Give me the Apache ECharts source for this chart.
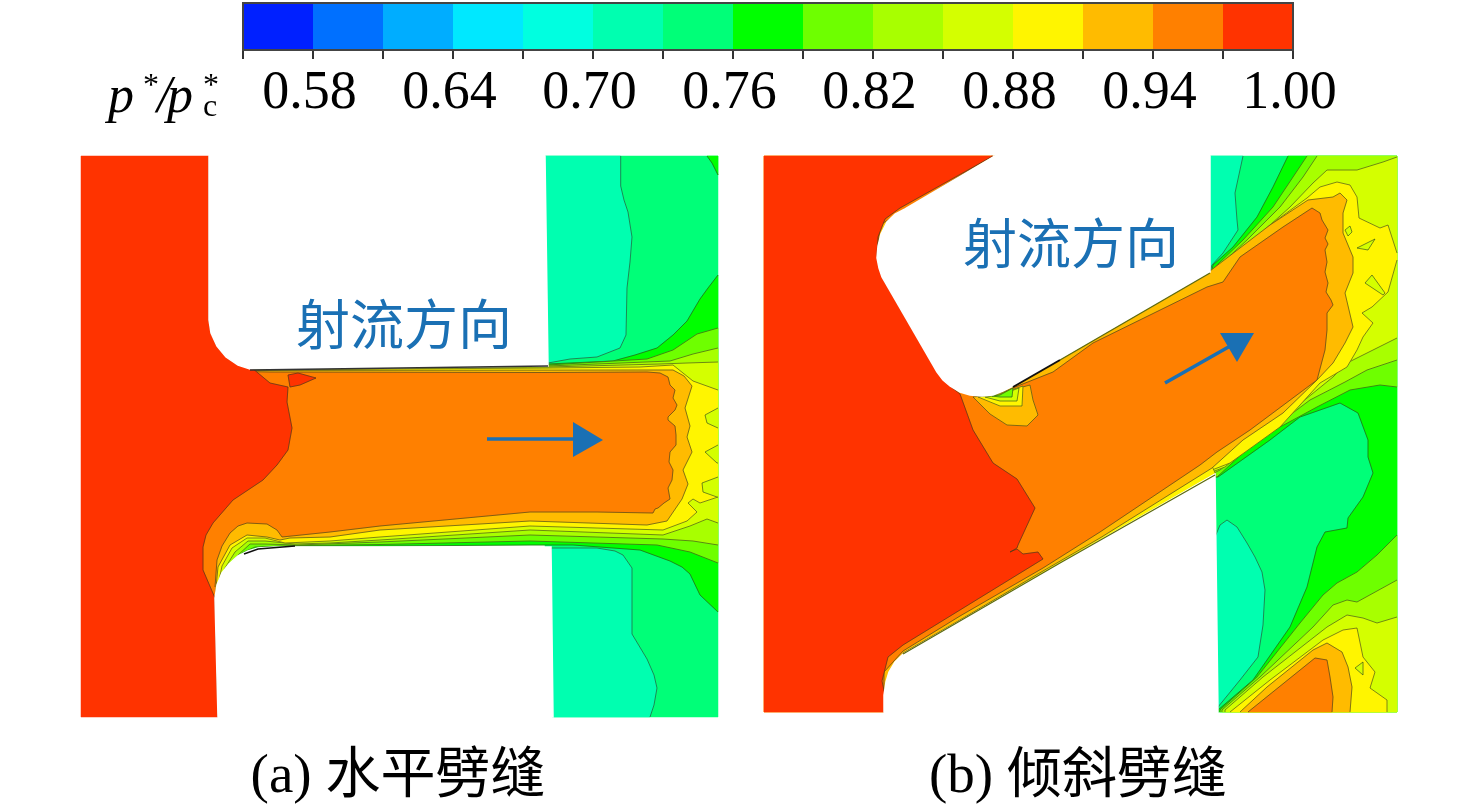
<!DOCTYPE html>
<html><head><meta charset="utf-8">
<style>html,body{margin:0;padding:0;background:#fff}#c{width:1476px;height:811px}</style>
<script src="https://cdn.jsdelivr.net/npm/echarts@6/dist/echarts.min.js"></script>
</head><body><div id="c"></div>
<script>
const ticks=['0.55','0.58','0.61','0.64','0.67','0.70','0.73','0.76','0.79','0.82','0.85','0.88','0.91','0.94','0.97','1.00'];
const levelColors=['#0020ff','#0070ff','#00adff','#00e8ff','#00ffe0','#00ffb0','#00ff78','#00ff00','#6eff00','#a8ff00','#d4ff00','#fff500','#ffbb00','#ff8000','#ff3300'];
const seamX=[81,718,764,1397,1212,215,195,545,552,1210],seamY=[156,717,712];

// ---- panel (a): contour regions, painted from low to high level
const aBase=[[545,156],[718,156],[718,717],[552,717],[545,560]];
const aL5Top=[[545,156],[620.7,156],[620.7,186],[624,200],[628,212],[632,237],[630,262],[627,288],[626,335],[620,348],[597,357],[570,359],[548,363],[545,363]];
const aL5Low=[[551,548],[597,548],[615,551],[623,555],[632,568],[632,634],[647,659],[654,675],[657,688],[654,705],[650,717],[552,717]];
const aL7Corner=[[707,156],[712,163],[718,175],[718,156]];
const a7=[[215,598],[222,576],[237,557],[257,548],[297,546],[380,546],[530,545],[573,545],[640,550],[670,561],[682,567],[690,574],[700,595],[718,612],[718,275],[708,288],[700,299],[687,321],[673,335],[657,348],[635,355],[613,361],[548,364],[240,366],[215,366]];
const a8=[[215,598],[220,583],[230,568],[242,553],[255,547],[300,545.5],[380,544.5],[530,541],[657,545],[690,552],[718,563],[718,328],[697,334],[673,350],[647,359],[548,365],[240,367],[215,367]];
const a9=[[215,598],[219,585],[227,570],[238,555],[250,544],[265,544],[297,545],[380,542],[530,535],[663,539],[693,541],[718,545],[718,348],[693,354],[670,361],[548,366],[240,368],[215,368]];
const a10=[[215,598],[218,590],[225,568],[235,552],[248,541],[265,541],[295,544],[330,543],[380,540],[530,530],[663,535],[690,526],[707,519],[718,523],[718,362],[687,363],[660,364],[548,367],[240,369],[215,369]];
const a11=[[215,598],[216,595],[222,566],[232,548],[247,538],[265,538],[285,543],[330,541],[380,537],[530,526],[663,530],[687,521],[697,512],[688,503],[693,499],[700,503],[718,497],[718,390],[693,381],[673,365],[640,367],[548,368],[240,370],[215,370]];
const aIsle1=[[718,408],[705,415],[707,423],[718,428]];
const aIsle2=[[718,445],[705,452],[717,463],[718,463]];
const aIsle3=[[718,477],[702,483],[703,492],[717,497],[718,497]];
const a12=[[215,598],[218,567],[230,545],[247,535],[267,537],[280,540],[290,538],[330,537],[380,530],[530,521],[647,525],[667,521],[682,499],[688,484],[683,470],[692,452],[687,437],[690,426],[685,408],[692,386],[684,376],[673,370],[640,370],[240,370.5],[215,370.5]];
const a13=[[215,598],[215,587],[217,560],[222,546],[230,533],[238,526],[247,523],[267,524],[277,530],[282,537],[330,532],[380,526],[530,512],[597,512],[653,513],[655,509],[658,508],[664,503],[670,499],[668,488],[672,480],[673,470],[669,462],[670,452],[676,445],[676,435],[675,426],[668,420],[668,417],[675,410],[677,405],[673,398],[675,390],[670,385],[668,377],[660,373],[647,372],[543,372.5],[270,372],[215,371],[195,371],[195,598]];
const a14=[[81,156],[209,156],[209,320],[211,333],[217,346],[226,357],[238,365],[252,368],[270,383],[288,387],[287,402],[292,428],[288,450],[277,465],[263,480],[233,500],[213,523],[206,535],[203,547],[203,570],[215,598],[218,717],[81,717]];
const aSliver=[[288,375],[298,373],[316,378],[300,385],[290,387]];
const aWhiteTop=[[209,156],[209,320],[211,333],[217,346],[226,357],[238,365],[250,369],[548,366],[545,156]];
const aWhiteLow=[[215,598],[217,585],[222,573],[229,564],[238,556],[248,551],[258,548],[275,547],[380,547],[551,547],[553,717],[218,717]];

// ---- panel (b)
const bBase=[[1210,156],[1397,156],[1397,712],[1218,712],[1210,470]];
const bL5Top=[[1210,156],[1243,156],[1235,193],[1237,220],[1238,230],[1223,253],[1212,265],[1210,272]];
const bL5Low=[[1215,537],[1220,525],[1227,520],[1237,527],[1247,543],[1255,557],[1262,572],[1265,590],[1263,625],[1258,657],[1240,680],[1218,707],[1216,712]];
const b7=[[1288,156],[1273,187],[1257,217],[1233,247],[1213,265],[1212,270],[1212,477],[1218,477],[1270,440],[1300,417],[1340,403],[1358,413],[1368,440],[1368,457],[1373,473],[1363,497],[1348,518],[1347,528],[1325,532],[1317,547],[1307,587],[1290,627],[1253,680],[1218,710],[1218,712],[1397,712],[1397,156]];
const b8Up=[[1307,156],[1293,177],[1273,207],[1243,240],[1217,265],[1212,270],[1212,476],[1217,477],[1257,440],[1280,427],[1317,407],[1350,390],[1380,385],[1397,387],[1397,156]];
const b8Low=[[1397,535],[1377,555],[1357,572],[1337,583],[1323,595],[1300,623],[1257,677],[1220,710],[1220,712],[1397,712]];
const b9Up=[[1317,156],[1303,177],[1280,207],[1247,240],[1220,265],[1212,272],[1212,474],[1220,470],[1270,430],[1310,400],[1345,382],[1367,370],[1397,360],[1397,156]];
const b9Low=[[1397,580],[1357,602],[1347,600],[1333,605],[1313,627],[1260,677],[1222,710],[1222,712],[1397,712]];
const b10Up=[[1397,157],[1383,162],[1357,170],[1327,170],[1313,183],[1290,207],[1250,243],[1223,265],[1212,274],[1212,472],[1225,467],[1280,420],[1333,377],[1347,363],[1367,353],[1397,338]];
const b10Low=[[1397,617],[1377,623],[1363,618],[1347,615],[1327,627],[1263,677],[1225,710],[1225,712],[1397,712]];
const b11Up=[[1307,198],[1320,187],[1337,182],[1350,185],[1357,197],[1359,218],[1380,228],[1388,225],[1397,253],[1397,260],[1388,292],[1372,307],[1362,313],[1373,323],[1363,337],[1357,350],[1347,367],[1320,383],[1280,427],[1230,463],[1212,470],[1212,276],[1230,263],[1270,225]];
const b11Low=[[1387,712],[1387,700],[1370,688],[1375,672],[1363,657],[1357,628],[1343,630],[1323,640],[1270,680],[1230,712]];
const bWallStrip=[[1212,466],[1100,534],[1043,568],[960,617],[903,651],[903,655],[1043,574],[1100,541],[1216,475]];
const bIsle1=[[1345,230],[1350,226],[1352,232],[1348,236]];
const bIsle2=[[1357,248],[1375,239],[1368,250]];
const bIsle3=[[1365,283],[1372,275],[1385,293],[1383,295]];
const bIsle4=[[1355,668],[1363,662],[1363,675]];
const b12=[[1308,200],[1333,197],[1340,193],[1347,200],[1343,213],[1343,233],[1353,257],[1353,273],[1345,293],[1353,327],[1345,343],[1333,363],[1317,380],[1283,413],[1243,440],[1212,468],[1100,538],[1043,571],[960,620],[903,653],[884,700],[884,712],[764,712],[764,156],[995,156],[877,255],[1000,392],[1093,338],[1210,271],[1270,225]];
const b12Low=[[1327,643],[1342,652],[1348,667],[1352,687],[1350,712],[1240,712],[1267,687],[1313,650]];
const b13=[[1312,208],[1320,213],[1322,220],[1328,230],[1325,238],[1328,244],[1325,250],[1327,262],[1325,272],[1328,283],[1326,292],[1331,300],[1333,305],[1327,313],[1327,330],[1325,350],[1317,380],[1250,430],[1217,452],[1200,465],[1100,532],[1043,568],[960,616],[903,651],[884,672],[884,712],[764,712],[764,156],[992,156],[880,225],[877,255],[1000,393],[1053,372],[1093,343],[1150,315],[1207,287],[1223,282],[1240,257],[1283,227]];
const b13Low=[[1315,658],[1327,660],[1330,677],[1333,697],[1332,712],[1248,712]];
const bBumpAmber=[[1030,385],[1033,400],[1038,415],[1027,426],[1007,425],[990,414],[973,397],[1000,393]];
const bBumpYellow=[[1023,386],[1022,406],[1000,406],[978,397],[1000,394]];
const bBumpLime=[[1019,388],[1017,401],[1000,401],[985,397],[1000,395]];
const bBumpGreen=[[1013,388],[1012,397],[1000,397],[992,396],[1000,395]];
const b14=[[764,156],[993,156],[900,208],[885,219],[878,237],[877,255],[882,277],[937,372],[950,386],[960,394],[973,430],[993,463],[1017,479],[1035,508],[1018,545],[1017,548],[1010,552],[1017,549],[1023,554],[1038,552],[1043,559],[960,610],[903,645],[888,657],[882,681],[885,695],[884,712],[764,712]];
const bWhiteTop=[[995,156],[905,209],[895,214],[887,222],[881,234],[878,246],[877,258],[879,268],[882,277],[937,372],[943,380],[950,386],[960,392],[970,395],[982,396],[993,395],[1003,391],[1013,386],[1210,272],[1210,156]];
const bWhiteLow=[[884,712],[884,695],[886,682],[889,672],[895,662],[903,654],[1215,474],[1218,712]];

const regions=[
 [6,aBase],[5,aL5Top],[5,aL5Low],[7,aL7Corner],[7,a7],[8,a8],[9,a9],[10,a10],[11,a11],[10,aIsle1],[10,aIsle2],[10,aIsle3],[12,a12],[13,a13],[14,a14],[14,aSliver],
 [-1,aWhiteTop],[-1,aWhiteLow],
 [6,bBase],[5,bL5Top],[5,bL5Low],[7,b7],[8,b8Up],[8,b8Low],[9,b9Up],[9,b9Low],[10,b10Up],[10,b10Low],[11,b11Up],[11,b11Low],[11,bWallStrip],[10,bIsle1],[10,bIsle2],[10,bIsle3],[10,bIsle4],[12,b12],[12,b12Low],[13,b13],[13,b13Low],[12,bBumpAmber],[11,bBumpYellow],[10,bBumpLime],[8,bBumpGreen],[14,b14],
 [-1,bWhiteTop],[-1,bWhiteLow]
];

// ---- wall lines and arrows
const wallA1=[[250,370],[400,368],[548,366]];
const wallA2=[[244,554],[258,549],[295,546]];
const wallB1=[[1013,387],[1060,360]];
const wallB2=[[1060,360],[1210,273]];
const wallB3=[[903,654],[1060,563],[1215,475]];
const walls=[[wallA1,'#333',1.5],[wallA2,'#111',1.5],[wallB1,'#111',2],[wallB2,'#5d6a10',1.3],[wallB3,'#5d6a10',1.3]];
const arrowAShaft=[[487,439],[575,439]];
const arrowAHead=[[573,422],[603,440],[573,457]];
const arrowBShaft=[[1165,383],[1232,345]];
const arrowBHead=[[1220,333],[1254,333],[1237,362]];

// ---- text: string, x, y, size, family, italic
const serif='"Liberation Serif","Noto Sans CJK SC",serif',cjk='"Noto Sans CJK SC",serif';
const labels=[
 ['p',108,98,52,serif,1,'#000'],['*',143,87,32,serif,0,'#000'],['/',157,98,52,serif,1,'#000'],['p',167,98,52,serif,1,'#000'],['*',203,87,32,serif,0,'#000'],['c',203,108,32,serif,0,'#000'],
 ['射流方向',404,324,54,cjk,0,'#1a70b4',1],['射流方向',1071,243,54,cjk,0,'#1a70b4',1],
 ['(a) 水平劈缝',398,778,55,serif,0,'#000',1],['(b) 倾斜劈缝',1078,778,55,serif,0,'#000',1]
];

function pts(api,a){return a.map(p=>api.coord(p));}
function contourRuns(a){
 const runs=[];let cur=[];
 for(let i=0;i<a.length;i++){
  const p=a[i],q=a[(i+1)%a.length];
  const seam=(p[0]===q[0]&&seamX.includes(p[0]))||(p[1]===q[1]&&seamY.includes(p[1]));
  if(seam){if(cur.length)runs.push(cur);cur=[];}
  else{if(!cur.length)cur.push(p);cur.push(q);}
 }
 if(cur.length)runs.push(cur);
 return runs;
}
const chart=echarts.init(document.getElementById('c'),null,{renderer:'canvas'});
const fullAxisX={type:'value',min:0,max:1476,show:false,gridIndex:0};
const fullAxisY={type:'value',min:0,max:811,inverse:true,show:false,gridIndex:0};
chart.setOption({
 animation:false,backgroundColor:'#fff',
 grid:[{left:0,top:0,width:1476,height:811},
       {left:243,top:3,width:1050,height:47,show:true,borderColor:'#444',borderWidth:2,backgroundColor:'transparent',z:5}],
 xAxis:[fullAxisX,{type:'category',gridIndex:1,data:ticks,boundaryGap:false,
   axisLine:{show:true,lineStyle:{color:'#333',width:2}},
   axisTick:{show:true,length:9,alignWithLabel:true,interval:0,lineStyle:{color:'#333',width:2}},
   axisLabel:{show:true,interval:(i)=>i%2===1,margin:17,padding:[0,7,0,0],color:'#000',fontSize:54,fontFamily:'Liberation Serif',hideOverlap:false}}],
 yAxis:[fullAxisY,{type:'value',gridIndex:1,min:0,max:1,show:false}],
 series:[
  {type:'custom',xAxisIndex:0,yAxisIndex:0,clip:false,silent:true,coordinateSystem:'cartesian2d',data:regions.map((_,i)=>[i,i]),
   renderItem(params,api){
    const [lv,a]=regions[params.dataIndex];
    if(lv<0)return {type:'polygon',shape:{points:pts(api,a)},style:{fill:'#fff',stroke:'#fff',lineWidth:1.5}};
    const children=[{type:'polygon',shape:{points:pts(api,a)},style:{fill:levelColors[lv],stroke:levelColors[lv],lineWidth:0.5}}];
    contourRuns(a).forEach(r=>children.push({type:'polyline',shape:{points:pts(api,r)},style:{fill:null,stroke:'rgba(45,60,30,0.6)',lineWidth:1}}));
    return {type:'group',children};
   }},
  {type:'custom',xAxisIndex:0,yAxisIndex:0,clip:false,silent:true,z:3,data:walls.map((_,i)=>[i,i]),
   renderItem(params,api){const [a,c,w]=walls[params.dataIndex];
    return {type:'polyline',shape:{points:pts(api,a)},style:{fill:null,stroke:c,lineWidth:w}};}},
  {type:'custom',xAxisIndex:0,yAxisIndex:0,clip:false,silent:true,z:4,data:[[0,0],[1,1]],
   renderItem(params,api){
    const s=params.dataIndex?arrowBShaft:arrowAShaft,h=params.dataIndex?arrowBHead:arrowAHead;
    return {type:'group',children:[
     {type:'polyline',shape:{points:pts(api,s)},style:{fill:null,stroke:'#1a70b4',lineWidth:3.5}},
     {type:'polygon',shape:{points:pts(api,h)},style:{fill:'#1a70b4'}}]};}},
  {type:'custom',xAxisIndex:0,yAxisIndex:0,clip:false,silent:true,z:6,data:labels.map((_,i)=>[i,i]),
   renderItem(params,api){const [t,x,y,s,f,it,col,cen]=labels[params.dataIndex];const c=api.coord([x,y]);
    return {type:'text',x:c[0],y:c[1],style:{text:t,fill:col,font:(it?'italic ':'')+s+'px '+f,textAlign:cen?'center':'left',textVerticalAlign:'middle'}};}},
  {type:'custom',xAxisIndex:1,yAxisIndex:1,silent:true,z:2,data:levelColors.map((_,i)=>[i,i]),
   renderItem(params,api){const i=params.dataIndex,p=api.coord([i,1]),q=api.coord([i+1,0]);
    return {type:'rect',shape:{x:p[0],y:p[1],width:q[0]-p[0],height:q[1]-p[1]},style:{fill:levelColors[i]}};}}
 ]
});
</script></body></html>
